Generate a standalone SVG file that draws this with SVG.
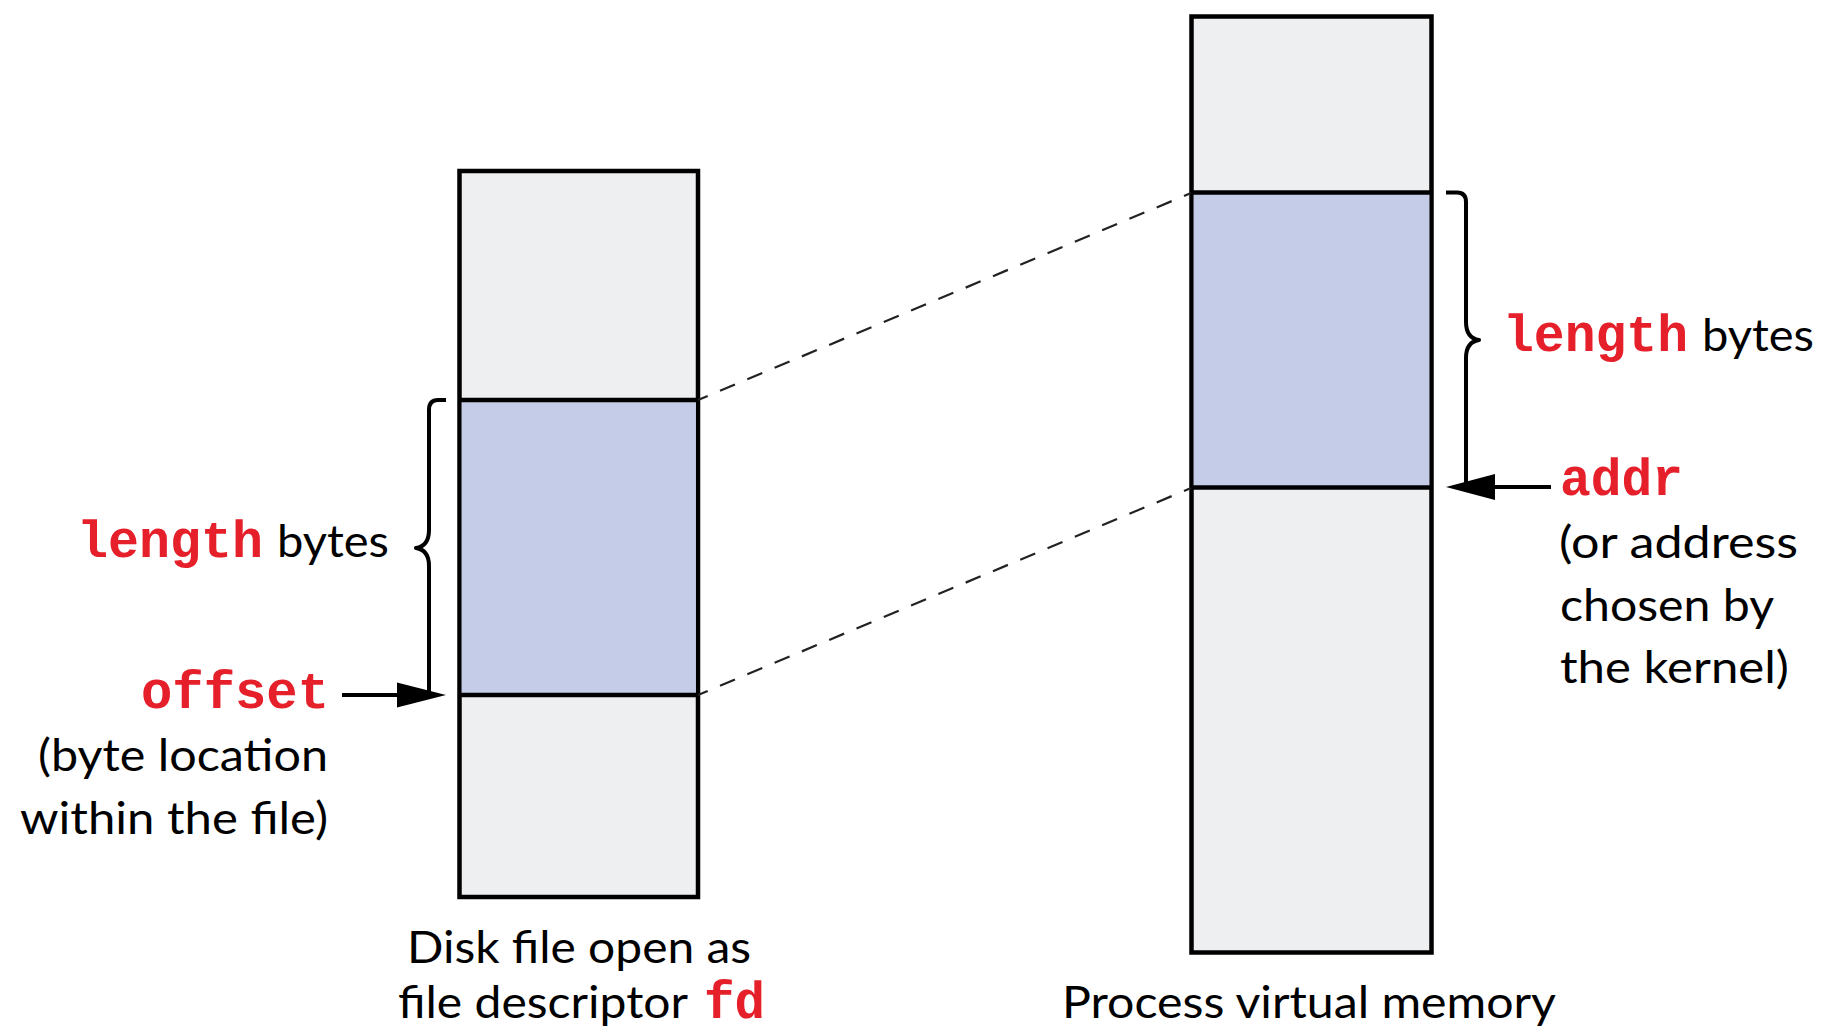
<svg xmlns="http://www.w3.org/2000/svg" width="1824" height="1031" viewBox="0 0 1824 1031">
  <style>
    .box { fill: #eeeff1; stroke: #000; stroke-width: 4.5; }
    .region { fill: #c5cce7; }
    .divider { stroke: #000; stroke-width: 4.5; fill: none; }
    .brace { stroke: #000; stroke-width: 4; fill: none; stroke-linejoin: round; }
    .shaft { stroke: #000; stroke-width: 4; }
    .head { fill: #000; }
    .dash { stroke: #222; stroke-width: 2.2; stroke-dasharray: 16.2 13.4; stroke-dashoffset: 5.7; fill: none; }
    .label { font-family: Lato, "Open Sans", "Liberation Sans", sans-serif; font-size: 44px; fill: #000; }
    .code { font-family: "Liberation Mono", "Courier New", monospace; font-weight: bold; font-size: 51px; fill: #e5202a; }
  </style>
  <rect width="1824" height="1031" fill="#fff"/>

  <!-- Disk file -->
  <g id="disk-file">
    <rect class="box" x="459.5" y="171" width="238.5" height="726"/>
    <rect class="region" x="461.75" y="400" width="234" height="295"/>
    <line class="divider" x1="459.5" y1="400" x2="698" y2="400"/>
    <line class="divider" x1="459.5" y1="695" x2="698" y2="695"/>
    <text class="label" x="407" y="963" textLength="344" lengthAdjust="spacingAndGlyphs">Disk file open as</text>
    <text class="label" x="398" y="1018" textLength="290" lengthAdjust="spacingAndGlyphs">file descriptor</text>
    <text class="code" x="704" y="1018" textLength="61" lengthAdjust="spacingAndGlyphs">fd</text>
  </g>

  <!-- Process virtual memory -->
  <g id="virtual-memory">
    <rect class="box" x="1191.5" y="16.5" width="240" height="936"/>
    <rect class="region" x="1193.75" y="192.5" width="235.5" height="295"/>
    <line class="divider" x1="1191.5" y1="192.5" x2="1431.5" y2="192.5"/>
    <line class="divider" x1="1191.5" y1="487.5" x2="1431.5" y2="487.5"/>
    <text class="label" x="1062" y="1018" textLength="494" lengthAdjust="spacingAndGlyphs">Process virtual memory</text>
  </g>

  <!-- Left annotation: length / offset -->
  <g id="file-length">
    <path class="brace" d="M 446 400 L 438 400 Q 429 400 429 410 L 429 530 Q 429 546 416 548 Q 429 550 429 566 L 429 694"/>
    <text class="code" x="77" y="557" textLength="186" lengthAdjust="spacingAndGlyphs">length</text>
    <text class="label" x="277" y="557" textLength="112" lengthAdjust="spacingAndGlyphs">bytes</text>
  </g>
  <g id="file-offset">
    <line class="shaft" x1="342" y1="695" x2="400" y2="695"/>
    <polygon class="head" points="397,682.5 446,695 397,707.5"/>
    <text class="code" x="141" y="708" textLength="188" lengthAdjust="spacingAndGlyphs">offset</text>
    <text class="label" x="38" y="771" textLength="290" lengthAdjust="spacingAndGlyphs">(byte location</text>
    <text class="label" x="20" y="834" textLength="308" lengthAdjust="spacingAndGlyphs">within the file)</text>
  </g>

  <!-- Right annotation: length / addr -->
  <g id="mem-length">
    <path class="brace" d="M 1446 192.5 L 1457 192.5 Q 1466 192.5 1466 202 L 1466 322 Q 1466 338 1479 340 Q 1466 342 1466 358 L 1466 485"/>
    <text class="code" x="1503" y="351" textLength="185" lengthAdjust="spacingAndGlyphs">length</text>
    <text class="label" x="1702" y="351" textLength="112" lengthAdjust="spacingAndGlyphs">bytes</text>
  </g>
  <g id="mem-addr">
    <line class="shaft" x1="1551" y1="487" x2="1492" y2="487"/>
    <polygon class="head" points="1495,474 1446,487 1495,500"/>
    <text class="code" x="1560" y="495" textLength="123" lengthAdjust="spacingAndGlyphs">addr</text>
    <text class="label" x="1559" y="558" textLength="239" lengthAdjust="spacingAndGlyphs">(or address</text>
    <text class="label" x="1560" y="621" textLength="214" lengthAdjust="spacingAndGlyphs">chosen by</text>
    <text class="label" x="1560" y="683" textLength="229" lengthAdjust="spacingAndGlyphs">the kernel)</text>
  </g>

  <!-- Mapping connectors -->
  <g id="connectors">
    <line class="dash" x1="698" y1="400" x2="1191" y2="193"/>
    <line class="dash" x1="698" y1="695" x2="1191" y2="488"/>
  </g>
</svg>
